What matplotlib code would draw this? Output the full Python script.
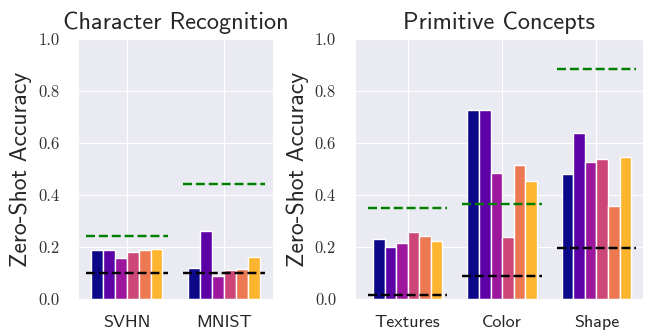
import matplotlib
matplotlib.use("Agg")
import matplotlib.pyplot as plt
import numpy as np
import seaborn as sns

sns.set_style("darkgrid")

# character recognition datasets
char_sets = ["SVHN", "MNIST"]
char_scores = [
    [0.190, 0.187, 0.158, 0.181, 0.188, 0.194],
    [0.118, 0.263, 0.090, 0.112, 0.117, 0.160],
]
char_green = [0.244, 0.442]
char_black = [0.100, 0.100]

# primitive concept probes
prim_sets = ["Textures", "Color", "Shape"]
prim_scores = [
    [0.232, 0.200, 0.215, 0.258, 0.242, 0.224],
    [0.728, 0.728, 0.485, 0.238, 0.515, 0.454],
    [0.482, 0.637, 0.528, 0.540, 0.356, 0.546],
]
prim_green = [0.351, 0.365, 0.883]
prim_black = [0.017, 0.087, 0.197]

colors = plt.cm.plasma(np.arange(6) / 6)
bw = 0.122
half = 0.42

fig = plt.figure(figsize=(6.45, 3.32), dpi=100)
ax1 = fig.add_axes([0.121, 0.0994, 0.302, 0.783])
ax2 = fig.add_axes([0.550, 0.0994, 0.4465, 0.783])


def draw(ax, names, scores, green, black, xlim):
    for c, vals in enumerate(scores):
        for i, v in enumerate(vals):
            ax.bar(c + (i - 2.5) * bw, v, width=bw, color=colors[i],
                   edgecolor="white", linewidth=1, zorder=2)
        ax.plot([c - half, c + half], [green[c]] * 2, ls="--", color="green",
                lw=1.75, zorder=3)
        ax.plot([c - half, c + half], [black[c]] * 2, ls="--", color="black",
                lw=1.75, zorder=3)
    ax.set_xlim(*xlim)
    ax.set_ylim(0, 1)
    ax.set_xticks(range(len(names)))
    ax.set_xticklabels(names, fontsize=13, family="cmss10")
    ax.set_yticks(np.arange(0, 1.01, 0.2))
    ax.set_yticklabels(["%.1f" % t for t in np.arange(0, 1.01, 0.2)],
                       fontsize=12, family="cmr10", color="#333333")
    ax.tick_params(axis="y", pad=10)
    ax.tick_params(axis="x", pad=8)
    ax.set_ylabel("Zero-Shot Accuracy", fontsize=17, family="cmss10",
                  labelpad=4)
    ax.set_title(ax.get_label(), fontsize=17.5, family="cmss10", pad=7)


ax1.set_label("Character Recognition")
ax2.set_label("Primitive Concepts")
draw(ax1, char_sets, char_scores, char_green, char_black, (-0.5, 1.5))
draw(ax2, prim_sets, prim_scores, prim_green, prim_black, (-0.56, 2.49))

fig.savefig("out.png", dpi=100)
